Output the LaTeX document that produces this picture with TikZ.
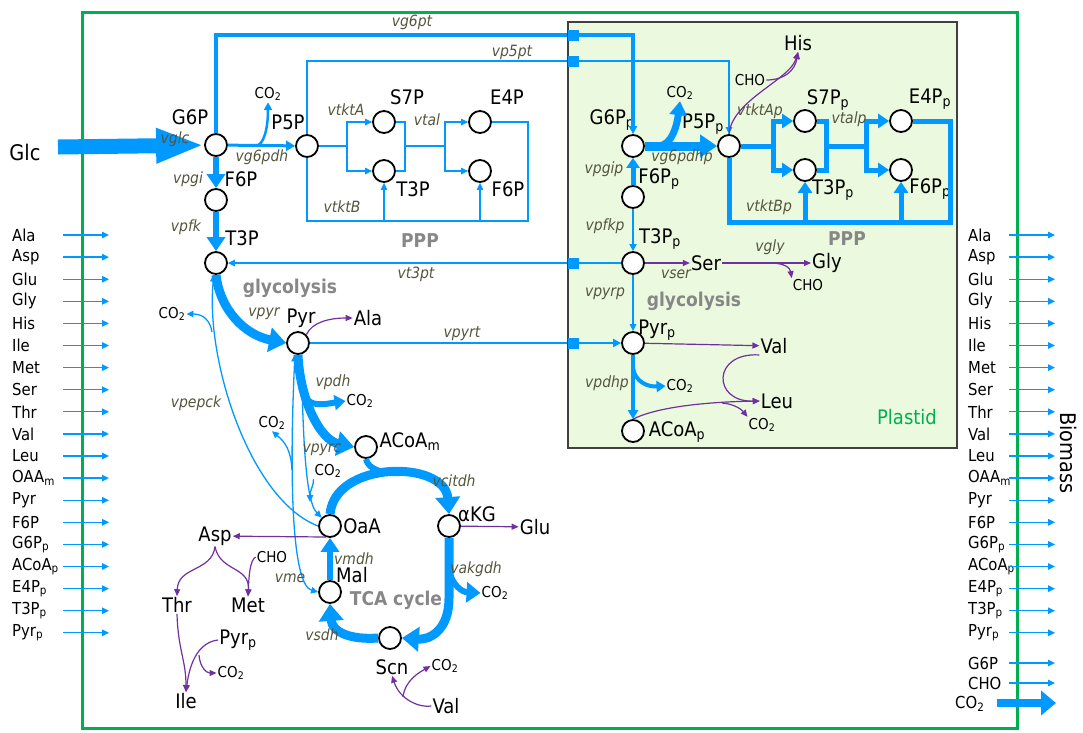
\documentclass[tikz,border=0pt]{standalone}
\usepackage{fontspec}
\setmainfont{DejaVu Sans Condensed}
\usepackage{tikz}
\usetikzlibrary{arrows.meta, positioning, calc}

\definecolor{flux}{RGB}{0,153,255}
\definecolor{amino}{RGB}{112,48,160}
\definecolor{cellgreen}{RGB}{0,176,80}
\definecolor{plastidfill}{RGB}{235,250,222}
\definecolor{rxntext}{RGB}{85,85,60}
\definecolor{pathgray}{RGB}{135,135,135}

\newcommand{\sbs}[1]{\textsubscript{#1}}
\newcommand{\fmet}{\fontsize{20}{22}\selectfont}
\newcommand{\fsml}{\fontsize{15}{17}\selectfont}
\newcommand{\frx}{\fontsize{15.5}{17}\selectfont}
\newcommand{\fgrp}{\fontsize{19}{21}\selectfont}
\newcommand{\flst}{\fontsize{16.5}{18}\selectfont}
\newcommand{\fbig}{\fontsize{21.5}{23}\selectfont}

\begin{document}
\begin{tikzpicture}[x=1pt, y=-1pt,
  met/.style={circle, draw, line width=1.8pt, fill=white, minimum size=22pt, inner sep=0pt},
  txt/.style={font=\fmet, inner sep=1pt},
  sml/.style={font=\fsml, inner sep=1pt},
  rx/.style={font={\frx\itshape}, text=rxntext, inner sep=1pt},
  grp/.style={font={\fgrp\bfseries}, text=pathgray, inner sep=1pt},
  lst/.style={font=\flst, anchor=west, inner sep=0pt},
  port/.style={fill=flux, minimum size=11pt, inner sep=0pt},
  thinarr/.style={draw=flux, line width=1.3pt, -{Triangle[length=7pt,width=6.5pt]}},
  thinline/.style={draw=flux, line width=1.3pt},
  medarr/.style={draw=flux, line width=3pt, -{Triangle[length=9pt,width=10pt]}},
  boldarr/.style={draw=flux, line width=6pt, -{Triangle[length=14pt,width=18pt]}},
  fatarr/.style={draw=flux, line width=9pt, -{Triangle[length=17pt,width=24pt]}},
  pparr/.style={draw=flux, line width=5pt, -{Triangle[length=11pt,width=14pt]}},
  ppline/.style={draw=flux, line width=5pt},
  aaarr/.style={draw=amino, line width=1.2pt, -{Triangle[length=7pt,width=6pt]}},
]
\useasboundingbox (0,0) rectangle (1083,732);

% Cell and plastid
\draw[cellgreen, line width=3pt] (82,12) rectangle (1017,728);
\draw[fill=plastidfill, draw=black!75, line width=1.2pt] (568,22) rectangle (957,448);
\node[font=\fmet, text=cellgreen] (plastid) at (907,417) {Plastid};

% Cytosol metabolites
\node[met] (g6p) at (216,145) {};
\node[met] (f6p) at (216,200) {};
\node[met] (t3p) at (216,263) {};
\node[met] (p5p) at (307,146) {};
\node[met] (s7p) at (384,122) {};
\node[met] (t3pb) at (384,171) {};
\node[met] (e4p) at (480,122) {};
\node[met] (f6pb) at (480,171) {};
\node[met] (pyr) at (298,343) {};
\node[met] (acoam) at (366,447) {};
\node[met] (oaa) at (330,526) {};
\node[met] (akg) at (449,526) {};
\node[met] (mal) at (330,592) {};
\node[met] (scn) at (390,638) {};

% Plastid metabolites
\node[met] (g6pp) at (633,146) {};
\node[met] (f6pp) at (633,197) {};
\node[met] (t3pp) at (633,263) {};
\node[met] (pyrp) at (633,343) {};
\node[met] (acoap) at (633,431) {};
\node[met] (p5pp) at (729,146) {};
\node[met] (s7pp) at (805,121) {};
\node[met] (t3ppb) at (805,170) {};
\node[met] (e4pp) at (901,121) {};
\node[met] (f6ppb) at (901,170) {};

% Transport ports
\node[port] (pt1) at (573,35) {};
\node[port] (pt2) at (573,61) {};
\node[port] (pt3) at (573,263) {};
\node[port] (pt4) at (573,343) {};

% Cytosol labels
\node[font=\fbig] (glc) at (25,152) {Glc};
\node[txt] (g6pl) at (190,117) {G6P};
\node[txt] (f6pl) at (241,179) {F6P};
\node[txt] (t3pl) at (242,238) {T3P};
\node[txt] (p5pl) at (288,122) {P5P};
\node[txt] (s7pl) at (407,97) {S7P};
\node[txt] (t3pbl) at (413,189) {T3P};
\node[txt] (e4pl) at (507,97) {E4P};
\node[txt] (f6pbl) at (508,189) {F6P};
\node[txt] (pyrl) at (301,318) {Pyr};
\node[txt] (ala) at (368,318) {Ala};
\node[txt] (acoaml) at (410,442) {ACoA\sbs{m}};
\node[txt] (oaal) at (362,526) {OaA};
\node[txt] (akgl) at (477,514) {αKG};
\node[txt] (glu) at (535,527) {Glu};
\node[txt] (asp) at (215,536) {Asp};
\node[sml] (chom) at (272,557) {CHO};
\node[txt] (thr) at (177,605) {Thr};
\node[txt] (metn) at (248,605) {Met};
\node[txt] (pyrpi) at (238,640) {Pyr\sbs{p}};
\node[sml] (co2i) at (231,673) {CO\sbs{2}};
\node[txt] (ile) at (186,701) {Ile};
\node[txt] (mall) at (352,575) {Mal};
\node[txt] (scnl) at (392,667) {Scn};
\node[sml] (co2s) at (445,666) {CO\sbs{2}};
\node[txt] (valb) at (446,706) {Val};
\node[sml] (co2k) at (495,593) {CO\sbs{2}};
\node[sml] (co2a) at (268,94) {CO\sbs{2}};
\node[sml] (co2e) at (172,314) {CO\sbs{2}};
\node[sml] (co2b) at (360,401) {CO\sbs{2}};
\node[sml] (co2m) at (272,423) {CO\sbs{2}};
\node[sml] (co2y) at (328,471) {CO\sbs{2}};
\node[grp] (glyc) at (290,288) {glycolysis};
\node[grp] (ppp) at (420,241) {PPP};
\node[grp] (tca) at (396,600) {TCA cycle};

% Plastid labels
\node[txt] (g6ppl) at (612,120) {G6P\sbs{p}};
\node[sml] (co2p) at (680,93) {CO\sbs{2}};
\node[txt] (p5ppl) at (703,124) {P5P\sbs{p}};
\node[txt] (f6ppl) at (659,179) {F6P\sbs{p}};
\node[txt] (his) at (798,43) {His};
\node[sml] (chop) at (750,80) {CHO};
\node[txt] (s7ppl) at (828,100) {S7P\sbs{p}};
\node[txt] (e4ppl) at (930,99) {E4P\sbs{p}};
\node[txt] (t3ppbl) at (833,190) {T3P\sbs{p}};
\node[txt] (f6ppbl) at (930,189) {F6P\sbs{p}};
\node[grp] (pppp) at (847,239) {PPP};
\node[txt] (t3ppl) at (660,239) {T3P\sbs{p}};
\node[txt] (ser) at (706,263) {Ser};
\node[txt] (gly) at (827,263) {Gly};
\node[sml] (chog) at (808,285) {CHO};
\node[grp] (glycp) at (694,301) {glycolysis};
\node[txt] (pyrpl) at (657,330) {Pyr\sbs{p}};
\node[txt] (val) at (774,346) {Val};
\node[sml] (co2pd) at (680,386) {CO\sbs{2}};
\node[txt] (leu) at (777,401) {Leu};
\node[sml] (co2l) at (762,425) {CO\sbs{2}};
\node[txt] (acoapl) at (677,432) {ACoA\sbs{p}};

% Branch points
\coordinate (glcin) at (58,147);
\coordinate (cb1) at (255,146);
\coordinate (ja) at (347,146);
\coordinate (jc) at (405,146);
\coordinate (jd) at (445,146);
\coordinate (je) at (528,221);
\coordinate (jf) at (307,221);
\coordinate (cb2) at (304,395);
\coordinate (jt) at (400,473);
\coordinate (jk) at (449,598);
\coordinate (jk2) at (449,570);
\coordinate (oaaw) at (326,537);
\coordinate (jp) at (199,655);
\coordinate (jv) at (403,697);
\coordinate (je2) at (212,332);
\coordinate (jm) at (292,470);
\coordinate (jy) at (310,502);
\coordinate (jg) at (658,146);
\coordinate (jq) at (633,368);
\coordinate (js) at (770,263);
\coordinate (jl) at (722,403);
\coordinate (pa) at (773,146);
\coordinate (pc) at (826,146);
\coordinate (pd) at (866,146);
\coordinate (pe) at (950,222);
\coordinate (pf) at (729,222);

% Cytosol: glucose and glycolysis
\draw[draw=flux, line width=15pt, -{Triangle[length=48pt,width=32pt]}] (glcin) -- (g6p);
\draw[boldarr] (g6p) -- (f6p);
\draw[boldarr] (f6p) -- (t3p);
\draw[medarr] (g6p) -- (p5p);
\draw[draw=flux, line width=2.5pt, -{Triangle[length=8pt,width=8pt]}] (cb1) .. controls (264,146) and (268,128) .. (co2a.south);
\draw[fatarr] (t3p.south) .. controls (220,310) and (245,335) .. (pyr.west);
\draw[aaarr] (pyr.north east) .. controls (312,322) and (330,318) .. (ala.west);
\draw[fatarr] (pyr.south) .. controls (300,400) and (320,440) .. (acoam.west);
\draw[draw=flux, line width=6pt, -{Triangle[length=11pt,width=15pt]}] (cb2) .. controls (310,408) and (325,404) .. (co2b.west);

% Transport between cytosol and plastid
\draw[draw=flux, line width=3.5pt, -{Triangle[length=8pt,width=8pt]}] (g6p.north) |- (pt1) -| (g6pp.north);
\draw[thinarr] (p5p.north) |- (pt2) -| (p5pp.north);
\draw[thinarr] (t3pp) -- (pt3) -- (t3p);
\draw[draw=flux, line width=2.5pt, -{Triangle[length=8pt,width=8pt]}] (pyr) -- (pt4) -- (pyrp);

% Cytosol PPP
\draw[thinline] (p5p) -- (ja);
\draw[thinarr] (ja) |- (s7p);
\draw[thinarr] (ja) |- (t3pb);
\draw[thinline] (s7p.east) -| (jc) |- (t3pb.east);
\draw[thinline] (jc) -- (jd);
\draw[thinarr] (jd) |- (e4p);
\draw[thinarr] (jd) |- (f6pb);
\draw[thinline] (e4p.east) -| (je) -- (jf) -- (p5p.south);
\draw[thinarr] (t3pb.south |- je) -- (t3pb);
\draw[thinarr] (f6pb.south |- je) -- (f6pb);

% TCA cycle
\draw[fatarr] (oaa.north) .. controls (335,460) and (445,460) .. (akg.north);
\draw[draw=flux, line width=6pt] (acoam.south) .. controls (368,470) and (385,474) .. (jt);
\draw[fatarr] (akg.south) -- (jk) .. controls (449,630) and (430,640) .. (scn.east);
\draw[draw=flux, line width=6pt, -{Triangle[length=14pt,width=20pt]}] (jk2) .. controls (452,585) and (462,592) .. (co2k.west);
\draw[fatarr] (scn.west) .. controls (350,640) and (332,632) .. (mal.south);
\draw[boldarr] (mal) -- (oaa);

% Anaplerotic and gluconeogenic fluxes
\draw[thinarr] (oaa.west) .. controls (250,500) and (205,360) .. (t3p.-100);
\draw[thinarr] (je2) .. controls (210,320) and (203,314) .. (co2e.east);
\draw[draw=flux, line width=1.3pt, {Triangle[length=7pt,width=6.5pt]}-{Triangle[length=7pt,width=6.5pt]}] (pyr.-105) .. controls (289,480) and (292,585) .. (mal.west);
\draw[thinarr] (jm) .. controls (291,450) and (285,442) .. (co2m.south);
\draw[thinarr] (pyr.-75) .. controls (303,420) and (304,500) .. (oaa.north west);
\draw[thinarr] (co2y.south west) .. controls (314,485) and (310,490) .. (jy);

% Cytosol amino acids
\draw[aaarr] (oaaw) -- (asp);
\draw[aaarr] (akg) -- (glu);
\draw[aaarr] (asp.south) .. controls (212,572) and (178,566) .. (thr.north);
\draw[aaarr] (asp.south) .. controls (220,572) and (250,566) .. (metn.north);
\draw[aaarr] (chom.west) .. controls (250,560) and (249,575) .. (metn.north);
\draw[aaarr] (thr.south) .. controls (178,650) and (186,660) .. (ile.north);
\draw[aaarr] (pyrpi.west) .. controls (200,642) and (190,660) .. (ile.north);
\draw[aaarr] (jp) .. controls (200,668) and (207,673) .. (co2i.west);
\draw[aaarr] (valb.west) .. controls (420,708) and (400,700) .. (scnl.south);
\draw[aaarr] (jv) .. controls (405,680) and (420,672) .. (co2s.west);

% Plastid glycolysis and PPP
\draw[draw=flux, line width=9pt, -{Triangle[length=17pt,width=22pt]}] (g6pp) -- (p5pp);
\draw[draw=flux, line width=7pt, -{Triangle[length=14pt,width=17pt]}] (jg) .. controls (672,146) and (677,125) .. (co2p.south);
\draw[draw=flux, line width=5pt, -{Triangle[length=10pt,width=13pt]}] (f6pp) -- (g6pp);
\draw[draw=flux, line width=2pt, -{Triangle[length=7pt,width=7pt]}] (f6pp) -- (t3pp);
\draw[thinarr] (t3pp) -- (pyrp);
\draw[draw=flux, line width=4pt, -{Triangle[length=9pt,width=10pt]}] (pyrp) -- (acoap);
\draw[draw=flux, line width=4pt, -{Triangle[length=9pt,width=11pt]}] (jq) .. controls (635,382) and (648,387) .. (co2pd.west);
\draw[ppline] (p5pp) -- (pa);
\draw[pparr] (pa) |- (s7pp);
\draw[pparr] (pa) |- (t3ppb);
\draw[ppline] (s7pp.east) -| (pc) |- (t3ppb.east);
\draw[ppline] (pc) -- (pd);
\draw[pparr] (pd) |- (e4pp);
\draw[pparr] (pd) |- (f6ppb);
\draw[ppline] (e4pp.east) -| (pe) -- (pf) -- (p5pp.south);
\draw[pparr] (t3ppb.south |- pe) -- (t3ppb);
\draw[pparr] (f6ppb.south |- pe) -- (f6ppb);

% Plastid amino acids
\draw[aaarr] (p5pp.north) .. controls (732,100) and (790,80) .. (his.south);
\draw[aaarr] (chop.east) .. controls (785,80) and (795,70) .. (his.south);
\draw[aaarr] (t3pp) -- (ser);
\draw[aaarr] (ser) -- (gly);
\draw[aaarr] (js) .. controls (785,263) and (790,268) .. (chog.north west);
\draw[aaarr] (pyrp) -- (val);
\draw[aaarr] (val.south west) .. controls (712,352) and (712,402) .. (leu.west);
\draw[aaarr] (acoap.north) .. controls (655,408) and (700,402) .. (leu.west);
\draw[aaarr] (jl) .. controls (735,404) and (742,410) .. (co2l.north west);

% Reaction names
\node[rx] (vglc) at (175,139) {vglc};
\node[rx] (vg6pdh) at (262,157) {vg6pdh};
\node[rx] (vpgi) at (188,179) {vpgi};
\node[rx] (vpfk) at (186,227) {vpfk};
\node[rx] (vg6pt) at (412,22) {vg6pt};
\node[rx] (vp5pt) at (512,52) {vp5pt};
\node[rx] (vtkta) at (346,110) {vtktA};
\node[rx] (vtal) at (427,120) {vtal};
\node[rx] (vtktb) at (342,207) {vtktB};
\node[rx] (vt3pt) at (416,274) {vt3pt};
\node[rx] (vpyr) at (264,314) {vpyr};
\node[rx] (vpyrt) at (462,334) {vpyrt};
\node[rx] (vpdh) at (333,382) {vpdh};
\node[rx] (vpepck) at (196,403) {vpepck};
\node[rx] (vpyrc) at (322,450) {vpyrc};
\node[rx] (vcitdh) at (454,481) {vcitdh};
\node[rx] (vmdh) at (354,559) {vmdh};
\node[rx] (vme) at (290,578) {vme};
\node[rx] (vakgdh) at (476,569) {vakgdh};
\node[rx] (vsdh) at (322,635) {vsdh};
\node[rx] (vg6pdhp) at (682,157) {vg6pdhp};
\node[rx] (vpgip) at (604,169) {vpgip};
\node[rx] (vpfkp) at (605,226) {vpfkp};
\node[rx] (vtktap) at (760,111) {vtktAp};
\node[rx] (vtalp) at (849,119) {vtalp};
\node[rx] (vtktbp) at (769,207) {vtktBp};
\node[rx] (vser) at (676,274) {vser};
\node[rx] (vgly) at (770,247) {vgly};
\node[rx] (vpyrp) at (605,294) {vpyrp};
\node[rx] (vpdhp) at (607,383) {vpdhp};

% Drains to biomass
\foreach \nm [count=\i from 0] in {Ala,Asp,Glu,Gly,His,Ile,Met,Ser,Thr,Val,Leu,OAA\sbs{m},Pyr,F6P,G6P\sbs{p},ACoA\sbs{p},E4P\sbs{p},T3P\sbs{p},Pyr\sbs{p}} {
  \pgfmathsetmacro{\yy}{235+22.1*\i}
  \node[lst] (inl\i) at (12,\yy) {\nm};
  \coordinate (ina\i) at (63,\yy);
  \coordinate (inb\i) at (109,\yy);
  \draw[thinarr] (ina\i) -- (inb\i);
  \node[lst] (outl\i) at (968,\yy) {\nm};
  \coordinate (outa\i) at (1009,\yy);
  \coordinate (outb\i) at (1055,\yy);
  \draw[thinarr] (outa\i) -- (outb\i);
}
\node[lst] (outg6p) at (968,663) {G6P};
\node[lst] (outcho) at (968,683) {CHO};
\node[lst] (outco2) at (955,704) {CO\sbs{2}};
\coordinate (g6pa) at (1009,663);
\coordinate (g6pb) at (1055,663);
\coordinate (choa) at (1009,683);
\coordinate (chob) at (1055,683);
\coordinate (co2oa) at (997,703);
\coordinate (co2ob) at (1056,703);
\draw[thinarr] (g6pa) -- (g6pb);
\draw[thinarr] (choa) -- (chob);
\draw[draw=flux, line width=8pt, -{Triangle[length=15pt,width=24pt]}] (co2oa) -- (co2ob);
\node[font=\fbig, rotate=-90] (biomass) at (1068,453) {Biomass};

\end{tikzpicture}
\end{document}
